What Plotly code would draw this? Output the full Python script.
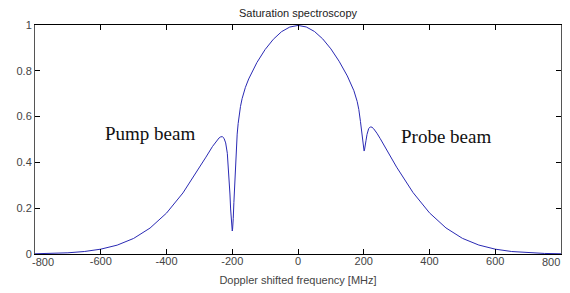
import plotly.graph_objects as go

# Doppler shifted frequency [MHz]
freq = [-800, -750, -700, -650, -600, -550, -500, -450, -400, -350, -300, -280,
        -260, -250, -240, -235, -230, -225, -220, -215, -210, -207, -205, -203,
        -202, -201, -200, -199, -198, -197, -195, -193, -190, -187, -185, -182,
        -180, -175, -170, -165, -160, -150, -125, -100, -75, -50, -25, 0,
        25, 50, 75, 100, 125, 150, 160, 170, 180, 185, 190, 193, 195, 197, 198,
        199, 200, 201, 202, 203, 205, 207, 210, 215, 220, 225, 230, 235, 240,
        250, 260, 280, 300, 350, 400, 450, 500, 550, 600, 650, 700, 750, 800]

# Normalised absorption signal
signal = [0.0010, 0.0024, 0.0052, 0.0108, 0.0211, 0.0387, 0.0680, 0.1133, 0.1786,
          0.2667, 0.3757, 0.4231, 0.4697, 0.4906, 0.5070, 0.5117, 0.5122, 0.5053,
          0.4851, 0.4398, 0.3479, 0.2620, 0.1966, 0.1375, 0.1160, 0.1031, 0.1004,
          0.1087, 0.1272, 0.1543, 0.2245, 0.3011, 0.4037, 0.4810, 0.5235, 0.5700,
          0.5965, 0.6440, 0.6786, 0.7050, 0.7277, 0.7645, 0.8362, 0.8930, 0.9377,
          0.9709, 0.9911, 0.9981,
          0.9915, 0.9718, 0.9395, 0.8958, 0.8418, 0.7776, 0.7479, 0.7132, 0.6662,
          0.6309, 0.5784, 0.5357, 0.5042, 0.4751, 0.4634, 0.4552, 0.4501, 0.4496,
          0.4522, 0.4583, 0.4763, 0.4966, 0.5226, 0.5475, 0.5550, 0.5536, 0.5472,
          0.5381, 0.5276, 0.5041, 0.4792, 0.4285, 0.3792, 0.2682, 0.1795, 0.1139,
          0.0684, 0.0391, 0.0211, 0.0108, 0.0052, 0.0024, 0.0010]

x_ticks = [-800, -600, -400, -200, 0, 200, 400, 600, 800]
x_tick_labels = ["-800", "-600", "-400", "-200", "0", "200", "400", "600", "800"]
y_ticks = [0, 0.2, 0.4, 0.6, 0.8, 1]
y_tick_labels = ["0", "0.2", "0.4", "0.6", "0.8", "1"]

labels = ["Pump beam", "Probe beam"]
label_x = [-450, 450]
label_y = [0.525, 0.515]

# the page body has an 8px default margin; the figure starts at (8, 8)
W, H = 570, 293

axis_font = dict(family="Liberation Sans, Arial, sans-serif", size=11, color="#444444")

fig = go.Figure()
fig.add_trace(go.Scatter(x=freq, y=signal, mode="lines",
                         line=dict(color="#2a2ab4", width=1),
                         showlegend=False, hoverinfo="skip"))

for t, lx, ly in zip(labels, label_x, label_y):
    fig.add_annotation(x=lx, y=ly, text=t, showarrow=False,
                       xanchor="center", yanchor="middle",
                       font=dict(family="Liberation Serif, Times New Roman, serif",
                                 size=19, color="#111111"))

# the end tick labels sit nudged inward, as in the original figure
shown_ticktext = [""] + x_tick_labels[1:-1] + [""]
for i, sh in ((0, 8), (-1, -10.5)):
    fig.add_annotation(x=x_ticks[i], y=0, xref="x", yref="y", text=x_tick_labels[i],
                       showarrow=False, xanchor="center", yanchor="middle",
                       xshift=sh, yshift=-7.5, font=axis_font)

fig.update_layout(
    width=W, height=H,
    margin=dict(l=27, r=17, t=17, b=47, autoexpand=False),
    paper_bgcolor="white", plot_bgcolor="white",
    title=dict(text="Saturation spectroscopy", x=(27 + 263) / W, xref="container",
               xanchor="center", y=1 - 5.5 / H, yref="container", yanchor="middle",
               font=dict(family="Liberation Sans, Arial, sans-serif", size=11,
                         color="#222222")),
    xaxis=dict(range=[-800, 800], tickvals=x_ticks, ticktext=shown_ticktext,
               ticks="inside", ticklen=5, tickcolor="black", tickwidth=1,
               showline=True, linecolor="black", linewidth=1, mirror="ticks",
               showgrid=False, zeroline=False, tickfont=axis_font,
               ticklabelstandoff=-3, ticklabeloverflow="allow",
               title=dict(text="Doppler shifted frequency [MHz]", font=axis_font,
                          standoff=10),
               automargin=False),
    yaxis=dict(range=[0, 1], tickvals=y_ticks, ticktext=y_tick_labels,
               ticks="inside", ticklen=5, tickcolor="black", tickwidth=1,
               showline=True, linecolor="#555555", linewidth=1, mirror="ticks",
               showgrid=False, zeroline=False, tickfont=axis_font,
               ticklabelstandoff=0, ticklabeloverflow="allow",
               automargin=False),
)

fig.write_html("out.html")
